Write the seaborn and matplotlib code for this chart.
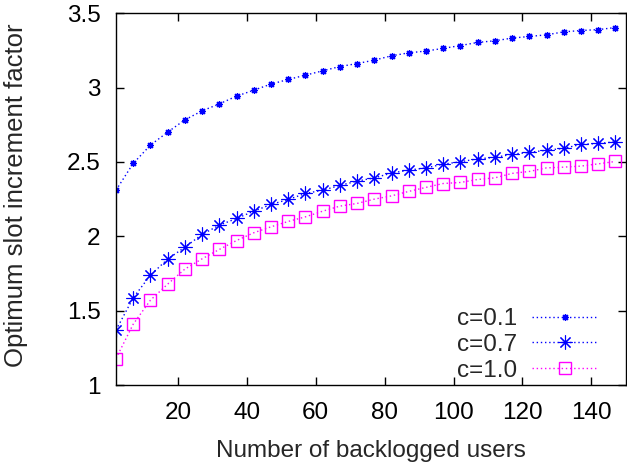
import matplotlib
matplotlib.use("Agg")
import matplotlib.pyplot as plt
import seaborn as sns
import pandas as pd

# Number of backlogged users
users = [2, 7, 12, 17, 22, 27, 32, 37, 42, 47, 52, 57, 62, 67, 72,
         77, 82, 87, 92, 97, 102, 107, 112, 117, 122, 127, 132, 137, 142, 147]

# Optimum slot increment factor for each c
factor_c01 = [2.310, 2.490, 2.613, 2.700, 2.783, 2.843, 2.890, 2.942, 2.982, 3.023,
              3.054, 3.083, 3.112, 3.141, 3.161, 3.184, 3.213, 3.233, 3.245, 3.263,
              3.282, 3.303, 3.314, 3.332, 3.343, 3.354, 3.374, 3.383, 3.389, 3.403]
factor_c07 = [1.370, 1.587, 1.739, 1.847, 1.927, 2.013, 2.075, 2.120, 2.169, 2.214,
              2.248, 2.288, 2.310, 2.342, 2.371, 2.393, 2.425, 2.445, 2.460, 2.485,
              2.501, 2.521, 2.530, 2.552, 2.564, 2.579, 2.591, 2.618, 2.624, 2.635]
factor_c10 = [1.179, 1.410, 1.571, 1.679, 1.780, 1.849, 1.912, 1.972, 2.024, 2.064,
              2.100, 2.131, 2.169, 2.203, 2.221, 2.250, 2.272, 2.302, 2.329, 2.355,
              2.362, 2.382, 2.393, 2.423, 2.436, 2.460, 2.465, 2.472, 2.487, 2.503]

labels = ["c=0.1", "c=0.7", "c=1.0"]
x_ticks = [20, 40, 60, 80, 100, 120, 140]
y_ticks = [1, 1.5, 2, 2.5, 3, 3.5]

FS = 17.5

sns.set_theme(style="ticks")
plt.rcParams["font.family"] = ["Liberation Sans", "DejaVu Sans"]
plt.rcParams["font.size"] = FS

fig = plt.figure(figsize=(6.27, 4.68), dpi=100)
ax = fig.add_axes([0.185, 0.177, 0.813, 0.795])

series = [factor_c01, factor_c07, factor_c10]
styles = [
    dict(color="#0000ff", marker=(8, 2, 0), markersize=5, markeredgewidth=0.9,
         markeredgecolor="#0000ff"),
    dict(color="#0000ff", marker=(8, 2, 0), markersize=10, markeredgewidth=0.8,
         markeredgecolor="#0000ff"),
    dict(color="#ff00ff", marker="s", markersize=9, markeredgewidth=1.0,
         markerfacecolor="none", markeredgecolor="#ff00ff"),
]
for vals, lab, st in zip(series, labels, styles):
    df = pd.DataFrame({"users": users, "factor": vals})
    sns.lineplot(data=df, x="users", y="factor", ax=ax, label=lab,
                 linestyle=(0, (1, 2)), linewidth=1.0, **st)

ax.set_xlim(2, 150)
ax.set_ylim(1, 3.5)
ax.set_xticks(x_ticks)
ax.set_yticks(y_ticks)
ax.set_yticklabels([f"{v:g}" for v in y_ticks])
ax.tick_params(direction="in", length=6, width=1, top=True, right=True,
               labelsize=FS, colors="black")
ax.tick_params(axis="y", pad=11)
ax.tick_params(axis="x", pad=12)
for s in ax.spines.values():
    s.set_visible(True)
    s.set_linewidth(1)
    s.set_color("black")

ax.set_xlabel("Number of backlogged users", fontsize=FS)
ax.set_ylabel("Optimum slot increment factor", fontsize=18.5)
ax.xaxis.set_label_coords(0.50, -0.147)
ax.yaxis.set_label_coords(-0.172, 0.51)

leg = ax.legend(loc="lower right", frameon=False, markerfirst=False,
                fontsize=FS, handlelength=2.7, handletextpad=0.6,
                labelspacing=0.15, borderaxespad=0.3,
                bbox_to_anchor=(0.978, -0.036))

fig.savefig("out.png", dpi=100)
